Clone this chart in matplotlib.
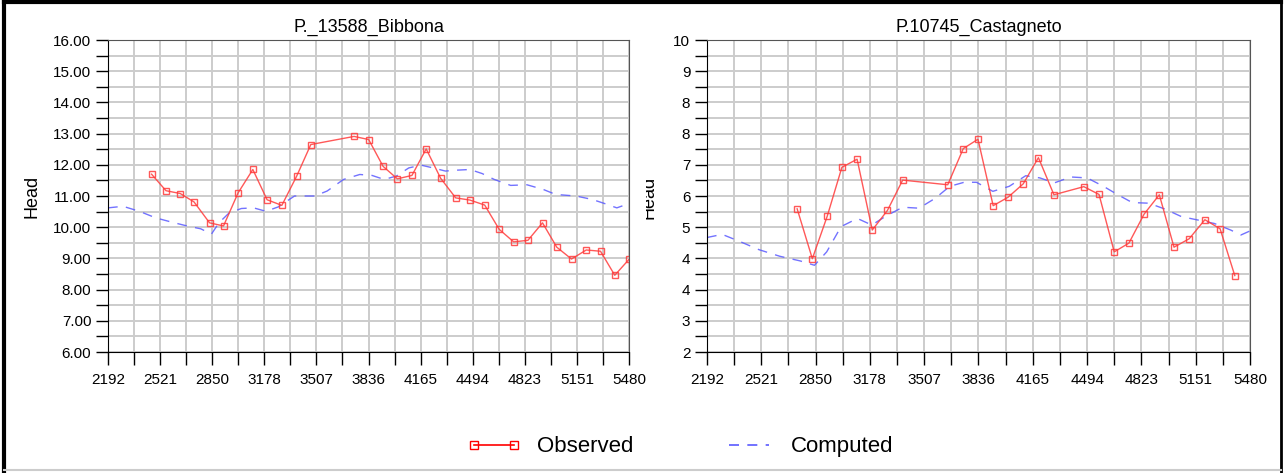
import numpy as np
import matplotlib
matplotlib.use('Agg')
import matplotlib.pyplot as plt
from matplotlib.lines import Line2D
from matplotlib.patches import Rectangle

plt.rcParams['font.family'] = ['Liberation Sans', 'DejaVu Sans']

# time axis (days)
xtick_vals = [2192, 2521, 2850, 3178, 3507, 3836, 4165, 4494, 4823, 5151, 5480]

# P._13588_Bibbona
obs1_x = [2467, 2558, 2648, 2735, 2833, 2921, 3013, 3106, 3196, 3289, 3382, 3472,
          3745, 3837, 3928, 4018, 4110, 4200, 4291, 4386, 4476, 4569, 4661, 4752,
          4842, 4934, 5024, 5117, 5210, 5300, 5390, 5480]
obs1_y = [11.70, 11.17, 11.08, 10.81, 10.14, 10.04, 11.10, 11.85, 10.88, 10.70, 11.63, 12.65,
          12.91, 12.81, 11.95, 11.55, 11.66, 12.51, 11.57, 10.94, 10.87, 10.71, 9.93, 9.53,
          9.58, 10.14, 9.36, 8.98, 9.27, 9.23, 8.46, 8.97]
com1_x = [2192, 2287, 2390, 2493, 2596, 2699, 2777, 2845, 2892, 2957, 3034, 3111, 3189,
          3266, 3369, 3497, 3575, 3678, 3781, 3858, 3935, 4012, 4090, 4167, 4244, 4321,
          4399, 4476, 4553, 4630, 4733, 4836, 4939, 5017, 5145, 5248, 5325, 5403, 5480]
com1_y = [10.62, 10.67, 10.51, 10.30, 10.16, 10.03, 9.95, 9.78, 10.14, 10.46, 10.60, 10.62, 10.51,
          10.65, 11.00, 11.00, 11.16, 11.53, 11.69, 11.66, 11.53, 11.64, 11.90, 11.99, 11.90, 11.80,
          11.83, 11.85, 11.72, 11.53, 11.34, 11.36, 11.21, 11.05, 11.00, 10.89, 10.76, 10.62, 10.76]

# P.10745_Castagneto
obs2_x = [2738, 2830, 2920, 3009, 3101, 3193, 3285, 3377, 3650, 3744, 3833, 3925, 4015,
          4107, 4199, 4293, 4474, 4566, 4658, 4747, 4839, 4931, 5020, 5112, 5207, 5299, 5388]
obs2_y = [5.59, 3.99, 5.35, 6.92, 7.18, 4.91, 5.54, 6.51, 6.36, 7.52, 7.82, 5.69, 5.96,
          6.39, 7.23, 6.04, 6.30, 6.05, 4.21, 4.49, 5.42, 6.04, 4.36, 4.63, 5.24, 4.95, 3.45]
com2_x = [2192, 2284, 2383, 2507, 2632, 2756, 2843, 2917, 3004, 3103, 3190, 3277, 3377,
          3476, 3575, 3662, 3749, 3824, 3923, 4022, 4122, 4208, 4295, 4395, 4494, 4593,
          4680, 4767, 4867, 4966, 5065, 5165, 5264, 5363, 5425, 5480]
com2_y = [4.67, 4.77, 4.56, 4.28, 4.07, 3.92, 3.78, 4.21, 5.02, 5.28, 5.07, 5.36, 5.64,
          5.61, 5.93, 6.31, 6.44, 6.44, 6.15, 6.31, 6.65, 6.58, 6.42, 6.61, 6.58, 6.31,
          6.04, 5.79, 5.77, 5.58, 5.34, 5.23, 5.12, 4.91, 4.75, 4.88]
# right panel y tick labels as printed
ytick2_vals = [1, 2, 3, 4, 5, 6, 7, 8, 9, 10, 11]
ytick2_labels = ['2', '3', '4', '4', '5', '6', '7', '8', '8', '9', '10']

obs_color = '#ff3b3b'
com_color = '#5a5aff'

fig = plt.figure(figsize=(12.84, 4.73), dpi=100)
ax1 = fig.add_axes([0.0841, 0.2558, 0.4058, 0.6596])
ax2 = fig.add_axes([0.5506, 0.2558, 0.4229, 0.6596])

def style_axes(ax, title):
    xminor = [(a + b) / 2 for a, b in zip(xtick_vals[:-1], xtick_vals[1:])]
    ax.set_xlim(xtick_vals[0], xtick_vals[-1])
    ax.set_xticks(xtick_vals)
    ax.set_xticks(xminor, minor=True)
    ax.set_xticklabels([str(v) for v in xtick_vals])
    ax.grid(True, which='both', color='#cccccc', linewidth=1.4)
    ax.set_axisbelow(True)
    ax.tick_params(which='both', direction='out', length=9, width=1, labelsize=11,
                   top=False, right=False)
    ax.tick_params(axis='x', pad=6)
    ax.tick_params(axis='y', pad=3)
    ax.spines['top'].set_color('#555555')
    ax.spines['right'].set_color('#555555')
    ax.set_title(title, fontsize=13, pad=6)

# left panel
ax1.plot(com1_x, com1_y, color=com_color, lw=1, dashes=(7, 6), alpha=0.85)
ax1.plot(obs1_x, obs1_y, color=obs_color, lw=1, marker='s', ms=4.5, mfc='none',
         mec=obs_color, alpha=0.85)
ax1.set_ylim(6, 16)
ax1.set_yticks(np.arange(6, 16.5, 1))
ax1.set_yticks(np.arange(6.5, 16, 1), minor=True)
ax1.set_yticklabels(['%.2f' % v for v in np.arange(6, 16.5, 1)])
style_axes(ax1, 'P._13588_Bibbona')
ax1.set_ylabel('Head', fontsize=13, labelpad=9)

# right panel
ax2.plot(com2_x, com2_y, color=com_color, lw=1, dashes=(7, 6), alpha=0.85)
ax2.plot(obs2_x, obs2_y, color=obs_color, lw=1, marker='s', ms=4.5, mfc='none',
         mec=obs_color, alpha=0.85)
ax2.set_ylim(1, 11)
ax2.set_yticks(ytick2_vals)
ax2.set_yticks([v + 0.5 for v in ytick2_vals[:-1]], minor=True)
ax2.set_yticklabels(ytick2_labels)
style_axes(ax2, 'P.10745_Castagneto')

# clipped "Head" label of the right panel
t = fig.text(649 / 1284, 1 - 197 / 473, 'Head', rotation=90, fontsize=13,
             ha='center', va='center')
clip = Rectangle((646 / 1284, 0), 0.2, 1, transform=fig.transFigure, visible=False)
fig.add_artist(clip)
t.set_clip_path(clip)
t.set_clip_on(True)

# legend
h_obs = Line2D([], [], color='red', lw=1.2, marker='s', ms=6, mfc='none', mec='red')
h_com = Line2D([], [], color=com_color, lw=1.2, dashes=(6, 5))
fig.legend([h_obs, h_com], ['Observed', 'Computed'], loc='center',
           bbox_to_anchor=(0.53, 0.055), ncol=2, frameon=False, fontsize=16,
           numpoints=2, handlelength=2.4, columnspacing=4.0, handletextpad=0.7)

# outer frame
fig.add_artist(Line2D([0.003, 0.003], [0.0, 0.995], color='black', lw=3, transform=fig.transFigure))
fig.add_artist(Line2D([0.003, 0.998], [0.995, 0.995], color='black', lw=3, transform=fig.transFigure))
fig.add_artist(Line2D([0.998, 0.998], [0.0, 0.995], color='black', lw=2, transform=fig.transFigure))
fig.add_artist(Line2D([0.003, 0.998], [0.006, 0.006], color='#cccccc', lw=1.5, transform=fig.transFigure))

fig.savefig('out.png', dpi=100)
